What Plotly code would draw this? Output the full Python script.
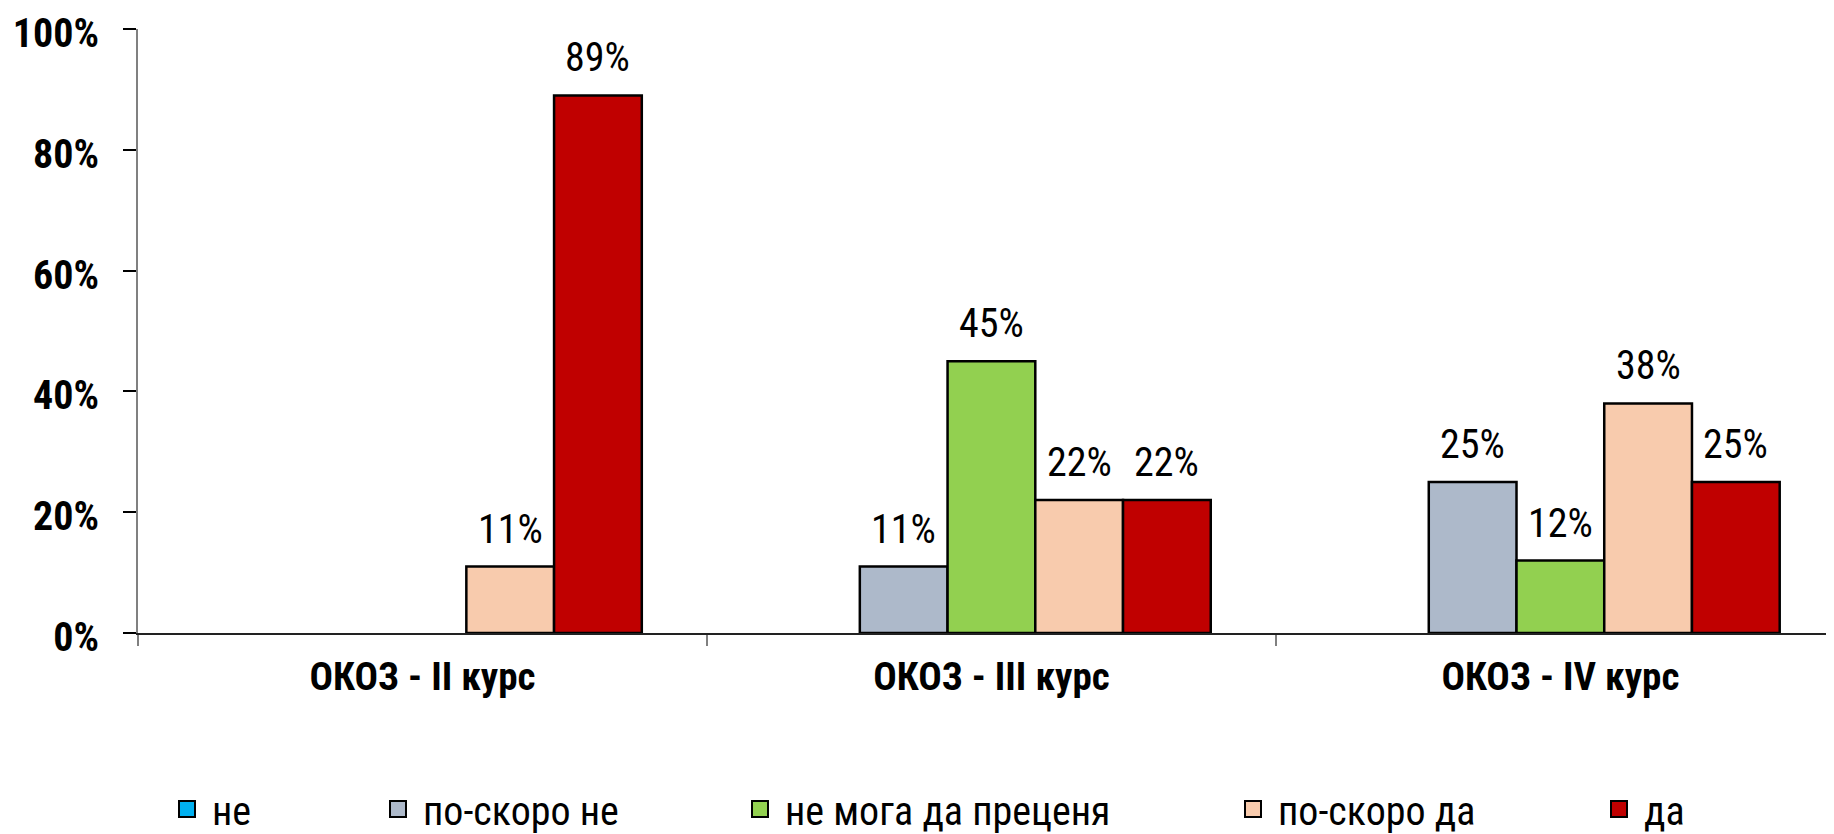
import plotly.graph_objects as go

categories = ["ОКОЗ - II курс", "ОКОЗ - III курс", "ОКОЗ - IV курс"]
series_names = ["не", "по-скоро не", "не мога да преценя", "по-скоро да", "да"]
ne = [0, 0, 0]
po_skoro_ne = [0, 11, 25]
ne_moga = [0, 45, 12]
po_skoro_da = [11, 22, 38]
da = [89, 22, 25]
series_values = [ne, po_skoro_ne, ne_moga, po_skoro_da, da]
colors = ["#00B0F0", "#ADB9CA", "#92D050", "#F8CBAD", "#C00000"]
y_tick_vals = [0, 20, 40, 60, 80, 100]
y_tick_text = ["0%", "20%", "40%", "60%", "80%", "100%"]

FONT = "Liberation Sans Narrow, Arial Narrow, Roboto Condensed, Liberation Sans, Arial, sans-serif"

W, H = 1834, 834
L, R, T, B = 130, 0, 21, 202
pw = W - L - R
ph = H - T - B
X_RANGE = [-0.5, 2.495]
BARGAP = 0.229
n_series = len(series_names)
cat_px = pw / (X_RANGE[1] - X_RANGE[0])
bar_px = cat_px * (1 - BARGAP) / n_series

legend_px = [154, 365, 727, 1220, 1586]
legend_center_y = 810

fig = go.Figure()
annotations = []
for i, (name, vals, col) in enumerate(zip(series_names, series_values, colors)):
    lg = "legend" if i == 0 else f"legend{i+1}"
    fig.add_trace(go.Bar(
        name=name, x=categories, y=vals, showlegend=False,
        marker=dict(color=col,
                    line=dict(color="black", width=[2.5 if v else 0 for v in vals])),
    ))
    # legend swatch (larger square than the default bar swatch)
    fig.add_trace(go.Scatter(
        name=name, x=[None], y=[None], mode="markers", showlegend=True,
        marker=dict(symbol="square", size=16, color=col,
                    line=dict(color="black", width=2)),
        legend=lg, hoverinfo="skip",
    ))
    for c, v in zip(categories, vals):
        if v:
            annotations.append(dict(
                x=c, y=v, xref="x", yref="y", text=f"{v}%", showarrow=False,
                xshift=(i - (n_series - 1) / 2) * bar_px, yshift=12,
                yanchor="bottom", xanchor="center",
                font=dict(family=FONT, size=40, color="black"),
            ))

layout_legends = {}
for i, px in enumerate(legend_px):
    key = "legend" if i == 0 else f"legend{i+1}"
    layout_legends[key] = dict(
        x=(px - L) / pw, xanchor="left",
        y=(T + ph - legend_center_y) / ph, yanchor="middle",
        font=dict(family=FONT, size=40, color="black"),
        bgcolor="rgba(0,0,0,0)", borderwidth=0,
        itemwidth=40, itemclick=False, itemsizing="trace",
    )

fig.update_layout(
    width=W, height=H,
    margin=dict(l=L, r=R, t=T, b=B, pad=0),
    plot_bgcolor="white", paper_bgcolor="white",
    barmode="group", bargap=BARGAP, bargroupgap=0,
    font=dict(family=FONT, color="black"),
    showlegend=True,
    annotations=annotations,
    **layout_legends,
)
fig.update_xaxes(
    range=X_RANGE, tickson="boundaries", automargin=False,
    showline=True, linecolor="#222222", linewidth=2,
    ticks="outside", ticklen=11, tickcolor="#808080", tickwidth=2,
    ticklabelstandoff=8,
    tickfont=dict(family=FONT, size=39, color="black", weight="bold"),
    showgrid=False, zeroline=False,
)
fig.update_yaxes(
    range=[0, 100], tickvals=y_tick_vals, ticktext=y_tick_text, automargin=False,
    showline=True, linecolor="#808080", linewidth=2,
    ticks="outside", ticklen=13, tickcolor="black", tickwidth=2,
    ticklabelstandoff=16, ticklabeloverflow="allow", ticklabelshift=4,
    tickfont=dict(family=FONT, size=40, color="black", weight="bold"),
    showgrid=False, zeroline=False,
)
fig.write_html("out.html")
